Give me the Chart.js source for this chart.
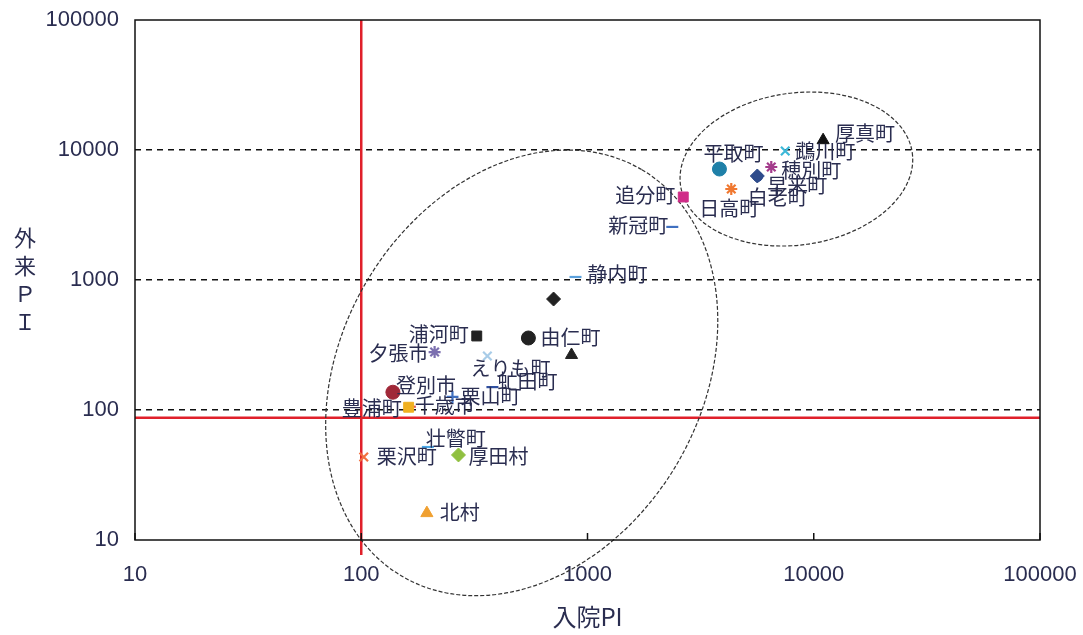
<!DOCTYPE html>
<html>
<head>
<meta charset="utf-8">
<script src="https://cdn.jsdelivr.net/npm/chart.js@4.4.1/dist/chart.umd.min.js"></script>
<style>
  html, body { margin: 0; padding: 0; background: #fff; }
  #wrap { width: 1083px; height: 635px; position: relative; }
</style>
</head>
<body>
<div id="wrap"><canvas id="chartPI"></canvas></div>
<script>
// datos: nombre, 入院PI (x), 外来PI (y)
const names = ['厚真町', '鵡川町', '穂別町', '白老町', '早来町', '平取町', '日高町', '追分町', '新冠町',
  '静内町', '', '由仁町', '', '浦河町', '夕張市', 'えりも町', '虻田町', '登別市', '栗山町',
  '千歳市', '豊浦町', '壮瞥町', '栗沢町', '厚田村', '北村'];
const nyuinPI = [11000, 7480, 6490, 5650, 5630, 3830, 4320, 2650, 2370,
  885, 708, 548, 850, 324, 211, 361, 380, 138, 253,
  164, 162, 197, 102.6, 269, 195];
const gairaiPI = [11900, 9820, 7400, 6250, 6310, 7140, 5010, 4350, 2560,
  1055, 714, 358, 265, 371, 279, 260, 150, 137, 126,
  106, 105, 51.9, 43.5, 45.1, 16.1];

const axisTicks = [10, 100, 1000, 10000, 100000];
const gridValues = [100, 1000, 10000];
const redLineX = 100;
const redLineY = 87;

// estilos de marcadores
const markerStyle = ['triangle', 'crossRot', 'star', 'circle', 'rectRot', 'circle', 'star', 'rect', 'line',
  'line', 'rectRot', 'circle', 'triangle', 'rect', 'star', 'crossRot', 'line', 'circle', 'cross',
  'line', 'rect', 'line', 'crossRot', 'rectRot', 'triangle'];
const markerColor = ['#111111', '#3cb8d8', '#a43c8c', '#2f4c8c', '#2f4c8c', '#1f80a8', '#f07830', '#d02c88', '#4070c0',
  '#5aa0dc', '#222222', '#222222', '#222222', '#222222', '#7c70b0', '#a8cce8', '#3050a0', '#a02838', '#4070c0',
  '#e05050', '#f0b020', '#4aa8e8', '#f07040', '#90c040', '#f0a030'];

// posición de etiquetas: [dx, dy, align]
const labelPos = [[12, -7, 'left'], [10, 0, 'left'], [10, 3, 'left'], [-10, 21, 'left'], [10, 9, 'left'],
  [14, -16, 'center'], [-2, 19, 'center'], [-8, -2, 'right'], [-4, -2, 'right'],
  [12, -3, 'left'], [0, 0, 'left'], [12, -1, 'left'], [0, 0, 'left'], [-8, -2, 'right'], [-6, 1, 'right'],
  [-17, 12, 'left'], [5, -6, 'left'], [3, -7, 'left'], [8, -1, 'left'],
  [5, -1, 'left'], [-7, 1, 'right'], [-2, -9, 'left'], [13, -1, 'left'], [10, 1, 'left'], [13, -1, 'left']];

// elipses: centro en valores, radios en px, rotación en grados
const ellipses = [
  { cx: 512, cy: 193, rx: 236, ry: 180, rot: -59.4 },
  { cx: 8380, cy: 7140, rx: 117, ry: 76, rot: -8 }
];

const points = nyuinPI.map((x, i) => ({ x: x, y: gairaiPI[i] }));

const decoPlugin = {
  id: 'deco',
  beforeDatasetsDraw(chart) {
    const { ctx, chartArea: a, scales } = chart;
    ctx.save();
    // líneas rojas
    ctx.strokeStyle = '#e0202a';
    ctx.lineWidth = 2.5;
    const rx = scales.x.getPixelForValue(redLineX);
    const ry = scales.y.getPixelForValue(redLineY);
    ctx.beginPath();
    ctx.moveTo(rx, a.top);
    ctx.lineTo(rx, a.bottom + 15);
    ctx.moveTo(a.left, ry);
    ctx.lineTo(a.right, ry);
    ctx.stroke();
    // elipses
    ctx.strokeStyle = '#333';
    ctx.lineWidth = 1.2;
    ctx.setLineDash([4, 2]);
    ellipses.forEach(e => {
      ctx.beginPath();
      ctx.ellipse(scales.x.getPixelForValue(e.cx), scales.y.getPixelForValue(e.cy),
        e.rx, e.ry, e.rot * Math.PI / 180, 0, Math.PI * 2);
      ctx.stroke();
    });
    ctx.restore();
  },
  afterDatasetsDraw(chart) {
    const { ctx } = chart;
    const meta = chart.getDatasetMeta(0);
    ctx.save();
    ctx.font = '20px "Noto Sans CJK JP"';
    ctx.fillStyle = '#2a2d50';
    ctx.textBaseline = 'middle';
    meta.data.forEach((pt, i) => {
      if (!names[i]) return;
      const p = labelPos[i];
      ctx.textAlign = p[2];
      ctx.fillText(names[i], pt.x + p[0], pt.y + p[1]);
    });
    ctx.restore();
  },
  afterDraw(chart) {
    const { ctx, chartArea: a, scales } = chart;
    ctx.save();
    // marco
    ctx.strokeStyle = '#111';
    ctx.lineWidth = 1.5;
    ctx.strokeRect(a.left, a.top, a.right - a.left, a.bottom - a.top);
    // marcas del eje x
    ctx.beginPath();
    axisTicks.forEach(v => {
      const px = scales.x.getPixelForValue(v);
      ctx.moveTo(px, a.bottom);
      ctx.lineTo(px, a.bottom - 7);
    });
    ctx.stroke();
    // título eje y vertical
    ctx.fillStyle = '#2a2d50';
    ctx.font = '22px "Noto Sans CJK JP"';
    ctx.textAlign = 'center';
    ctx.textBaseline = 'middle';
    ['外', '来', 'Ｐ', 'Ｉ'].forEach((c, i) => ctx.fillText(c, 25, 238 + i * 28));
    ctx.restore();
  }
};

const tickFont = { family: '"Liberation Sans", Arial, sans-serif', size: 22 };

new Chart(document.getElementById('chartPI'), {
  type: 'scatter',
  data: {
    datasets: [{
      label: 'PI',
      data: points,
      pointStyle: markerStyle,
      backgroundColor: markerColor,
      borderColor: markerColor,
      borderWidth: markerStyle.map(s => (s === 'line' || s === 'cross' || s === 'crossRot' || s === 'star') ? 2.2 : 1),
      pointRadius: markerStyle.map((s, i) => {
        if (names[i] === '白老町') return 5;
        if (s === 'line' || s === 'cross' || s === 'crossRot' || s === 'star') return 6;
        return 7;
      }),
      pointHoverRadius: 7
    }]
  },
  options: {
    responsive: true,
    maintainAspectRatio: false,
    animation: false,
    layout: { padding: { top: 20, right: 43, left: 0, bottom: 0 } },
    plugins: {
      legend: { display: false },
      tooltip: { enabled: false }
    },
    scales: {
      x: {
        type: 'logarithmic',
        min: 10,
        max: 100000,
        afterBuildTicks: s => { s.ticks = axisTicks.map(v => ({ value: v })); },
        afterFit: s => { s.height = 95; s.paddingLeft = 0; s.paddingRight = 0; },
        grid: { drawOnChartArea: false, drawTicks: false },
        border: { display: false },
        ticks: {
          callback: v => String(v),
          font: tickFont,
          color: '#2a2d50',
          padding: 22,
          maxRotation: 0,
          autoSkip: false
        },
        title: {
          display: true,
          text: '入院PI',
          font: { family: '"Noto Sans CJK JP"', size: 24 },
          color: '#2a2d50',
          padding: { top: 6 }
        }
      },
      y: {
        type: 'logarithmic',
        min: 10,
        max: 100000,
        afterBuildTicks: s => { s.ticks = axisTicks.map(v => ({ value: v })); },
        afterFit: s => { s.width = 135; s.paddingTop = 0; s.paddingBottom = 0; },
        grid: {
          drawTicks: false,
          lineWidth: 1.5,
          color: c => gridValues.includes(c.tick && c.tick.value) ? '#111' : 'rgba(0,0,0,0)'
        },
        border: { display: false, dash: [6, 5] },
        ticks: {
          callback: v => String(v),
          font: tickFont,
          color: '#2a2d50',
          padding: 16,
          autoSkip: false
        }
      }
    }
  },
  plugins: [decoPlugin]
});
</script>
</body>
</html>
